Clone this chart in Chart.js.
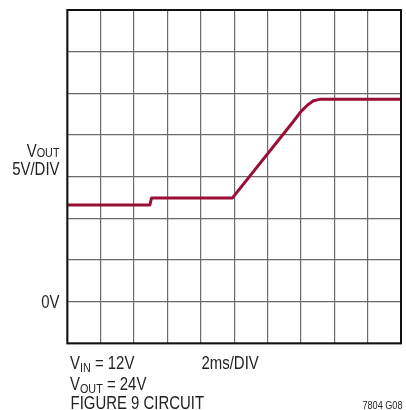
<!DOCTYPE html>
<html>
<head>
<meta charset="utf-8">
<script src="https://cdn.jsdelivr.net/npm/chart.js@4"></script>
<style>
  html, body { margin: 0; padding: 0; background: #fff; }
  #wrap { position: relative; width: 406px; height: 410px; }
</style>
</head>
<body>
<div id="wrap"><canvas id="myChart" width="406" height="410"></canvas></div>
<script>
// scope trace, x in ms (2ms/DIV), y in volts (5V/DIV)
const timeMs = [0, 4.95, 5.05, 9.9, 13.5, 14.0, 14.4, 14.75, 15.2, 20]
const voutV = [11.6, 11.6, 12.45, 12.45, 21.5, 22.8, 23.6, 24.1, 24.3, 24.3]
const xTicks = [0, 20, 2]    // min, max, step
const yTicks = [-5, 35, 5]

const FONT = "'Liberation Sans', Arial, sans-serif"
const SX = 0.83  // squeeze to look like condensed helvetica

// draw a run of text parts, parts = [[text, size, dy]]
function drawParts (ctx, parts, x, y, align) {
    let w = 0
    parts.forEach(p => {
        ctx.font = p[1] + "px " + FONT
        w += ctx.measureText(p[0]).width * SX
    })
    let cx = align === "right" ? x - w : x
    parts.forEach(p => {
        ctx.font = p[1] + "px " + FONT
        ctx.save()
        ctx.translate(cx, y + (p[2] || 0))
        ctx.scale(SX, 1)
        ctx.fillText(p[0], 0, 0)
        ctx.restore()
        cx += ctx.measureText(p[0]).width * SX
    })
}

const labels = {
    id: "labels",
    afterDraw (chart) {
        const ctx = chart.ctx
        const a = chart.chartArea
        const y = chart.scales.y
        ctx.save()
        // frame
        ctx.strokeStyle = "#111"
        ctx.lineWidth = 2
        ctx.strokeRect(a.left, a.top, a.right - a.left, a.bottom - a.top)

        ctx.fillStyle = "#222"
        ctx.textBaseline = "alphabetic"
        drawParts(ctx, [["V", 18], ["OUT", 13]], 59.5, 156.5, "right")
        drawParts(ctx, [["5V/DIV", 18]], 59.5, 175, "right")
        drawParts(ctx, [["0V", 18]], 59.5, y.getPixelForValue(0) + 6.5, "right")

        drawParts(ctx, [["V", 18], ["IN", 13, 3], [" = 12V", 18]], 70, 368.5)
        drawParts(ctx, [["V", 18], ["OUT", 13, 3], [" = 24V", 18]], 70, 390)
        drawParts(ctx, [["FIGURE 9 CIRCUIT", 18]], 70.5, 409)
        drawParts(ctx, [["2ms/DIV", 18]], 201.5, 368.5)
        drawParts(ctx, [["7804 G08", 11]], 402.5, 408.5, "right")
        ctx.restore()
    }
}

const ctx = document.getElementById("myChart").getContext("2d")

new Chart(ctx, {
    type: "scatter",
    data: {
        datasets: [{
            data: timeMs.map((t, i) => ({x: t, y: voutV[i]})),
            showLine: true,
            borderColor: "#9b0f34",
            borderWidth: 3,
            pointRadius: 0,
            tension: 0,
            borderJoinStyle: "round",
            borderCapStyle: "butt"
        }]
    },
    options: {
        responsive: false,
        animation: false,
        devicePixelRatio: 1,
        layout: {padding: {left: 67.3, right: 5, top: 10, bottom: 66.7}},
        plugins: {legend: {display: false}, tooltip: {enabled: false}},
        scales: {
            x: {
                type: "linear", min: xTicks[0], max: xTicks[1],
                ticks: {display: false, stepSize: xTicks[2]},
                grid: {color: "#6a6a6a", lineWidth: 1.2, drawTicks: false},
                border: {display: false},
                afterFit: axis => { axis.height = 0 }
            },
            y: {
                type: "linear", min: yTicks[0], max: yTicks[1],
                ticks: {display: false, stepSize: yTicks[2]},
                grid: {color: "#6a6a6a", lineWidth: 1.2, drawTicks: false},
                border: {display: false},
                afterFit: axis => { axis.width = 0 }
            }
        }
    },
    plugins: [labels]
})
</script>
</body>
</html>
